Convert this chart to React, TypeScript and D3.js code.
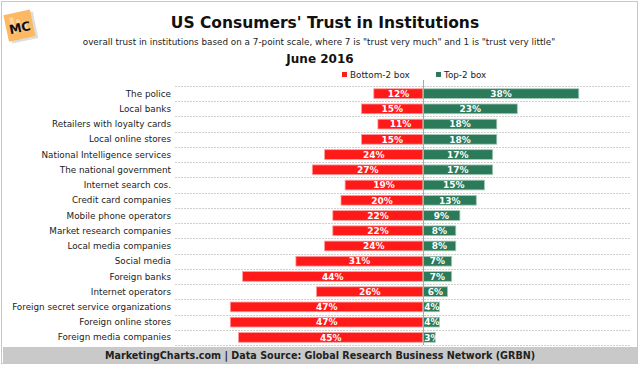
import React, { useEffect, useRef } from 'react';
import * as d3 from 'd3';

const categories = [
  'The police',
  'Local banks',
  'Retailers with loyalty cards',
  'Local online stores',
  'National Intelligence services',
  'The national government',
  'Internet search cos.',
  'Credit card companies',
  'Mobile phone operators',
  'Market research companies',
  'Local media companies',
  'Social media',
  'Foreign banks',
  'Internet operators',
  'Foreign secret service organizations',
  'Foreign online stores',
  'Foreign media companies',
];
const bottom2 = [12, 15, 11, 15, 24, 27, 19, 20, 22, 22, 24, 31, 44, 26, 47, 47, 45];
const top2 = [38, 23, 18, 18, 17, 17, 15, 13, 9, 8, 8, 7, 7, 6, 4, 4, 3];
const seriesNames = ['Bottom-2 box', 'Top-2 box'];

const RED = '#ff1a1a';
const GREEN = '#2b7a59';
const FONT = '"DejaVu Sans", Verdana, sans-serif';

const App: React.FC = () => {
  const svgRef = useRef<SVGSVGElement | null>(null);

  useEffect(() => {
    const W = 640, H = 365;
    const svg = d3.select(svgRef.current);
    svg.selectAll('*').remove();
    svg.attr('width', W).attr('height', H).style('font-family', FONT);

    svg.append('rect').attr('width', W).attr('height', H).attr('fill', 'white');
    // frame
    svg.append('rect')
      .attr('x', 1.5).attr('y', 1.5).attr('width', W - 4).attr('height', H - 3)
      .attr('fill', 'none').attr('stroke', '#c8c8c8');

    // logo
    const logo = svg.append('g').attr('transform', 'translate(20,26) rotate(-12)');
    logo.append('rect').attr('x', -13).attr('y', -13).attr('width', 27).attr('height', 27)
      .attr('fill', '#bbb').attr('opacity', 0.5).attr('transform', 'translate(1.5,1.5)');
    logo.append('rect').attr('x', -14).attr('y', -14).attr('width', 27).attr('height', 27)
      .attr('fill', '#fdb863');
    [-9, -3, 3].forEach((bx, i) => {
      logo.append('rect').attr('x', bx).attr('y', -10 + i * 3).attr('width', 4).attr('height', 16 - i * 3)
        .attr('fill', '#fed39c');
    });
    logo.append('text').attr('x', -0.5).attr('y', 6).attr('text-anchor', 'middle')
      .attr('font-size', 12.5).attr('font-weight', 'bold').attr('fill', '#111').text('MC');

    // titles
    svg.append('text').attr('x', 325).attr('y', 28).attr('text-anchor', 'middle')
      .attr('font-size', 15.5).attr('font-weight', 'bold').attr('fill', '#111')
      .text("US Consumers' Trust in Institutions");
    svg.append('text').attr('x', 319).attr('y', 45).attr('text-anchor', 'middle')
      .attr('font-size', 8.8).attr('fill', '#222')
      .text('overall trust in institutions based on a 7-point scale, where 7 is "trust very much" and 1 is "trust very little"');
    svg.append('text').attr('x', 320).attr('y', 63).attr('text-anchor', 'middle')
      .attr('font-size', 12).attr('font-weight', 'bold').attr('fill', '#111')
      .text('June 2016');

    // legend
    const legend = [
      { name: seriesNames[0], color: RED, x: 342 },
      { name: seriesNames[1], color: GREEN, x: 436 },
    ];
    legend.forEach(l => {
      svg.append('rect').attr('x', l.x).attr('y', 72).attr('width', 5).attr('height', 5).attr('fill', l.color);
      svg.append('text').attr('x', l.x + 8).attr('y', 78).attr('font-size', 8.8).attr('fill', '#222').text(l.name);
    });

    const x = d3.scaleLinear().domain([-50, 40]).range([423 - 205, 423 + 164]);
    const y = d3.scaleBand().domain(categories).range([86, 345]).paddingInner(0.36).paddingOuter(0.18);
    const bh = y.bandwidth();
    const gap = (y.step() - bh) / 2;

    // gridlines between rows
    const gridYs = categories.map(c => (y(c) as number) - gap);
    gridYs.push((y(categories[categories.length - 1]) as number) + bh + gap);
    gridYs.forEach(gy => {
      svg.append('line').attr('x1', 175).attr('x2', 630)
        .attr('y1', Math.round(gy) + 0.5).attr('y2', Math.round(gy) + 0.5)
        .attr('stroke', '#cfcfcf').attr('stroke-dasharray', '2,1');
    });

    // category labels
    svg.append('g').selectAll('text').data(categories).enter().append('text')
      .attr('x', 171).attr('y', d => (y(d) as number) + bh / 2)
      .attr('dy', '0.35em').attr('text-anchor', 'end')
      .attr('font-size', 8.8).attr('fill', '#222').text(d => d);

    // bottom-2 bars
    svg.append('g').selectAll('rect').data(categories).enter().append('rect')
      .attr('x', (d, i) => x(-bottom2[i])).attr('y', d => y(d) as number)
      .attr('width', (d, i) => x(0) - x(-bottom2[i])).attr('height', bh)
      .attr('fill', RED).attr('stroke', '#ff9c9c').attr('stroke-width', 0.8);
    // top-2 bars
    svg.append('g').selectAll('rect').data(categories).enter().append('rect')
      .attr('x', x(0)).attr('y', d => y(d) as number)
      .attr('width', (d, i) => x(top2[i]) - x(0)).attr('height', bh)
      .attr('fill', GREEN).attr('stroke', '#a9cbbb').attr('stroke-width', 0.8);

    // zero line
    svg.append('line').attr('x1', x(0) + 0.5).attr('x2', x(0) + 0.5).attr('y1', 80).attr('y2', 345)
      .attr('stroke', '#aaa');

    // value labels
    svg.append('g').selectAll('text').data(categories).enter().append('text')
      .attr('x', (d, i) => (x(-bottom2[i]) + x(0)) / 2).attr('y', d => (y(d) as number) + bh / 2)
      .attr('dy', '0.36em').attr('text-anchor', 'middle')
      .attr('font-size', 9).attr('font-weight', 'bold').attr('fill', 'white')
      .text((d, i) => `${bottom2[i]}%`);
    svg.append('g').selectAll('text').data(categories).enter().append('text')
      .attr('x', (d, i) => Math.max((x(top2[i]) + x(0)) / 2, x(0) + 9)).attr('y', d => (y(d) as number) + bh / 2)
      .attr('dy', '0.36em').attr('text-anchor', 'middle')
      .attr('font-size', 9).attr('font-weight', 'bold').attr('fill', 'white')
      .text((d, i) => `${top2[i]}%`);

    // footer
    svg.append('rect').attr('x', 3).attr('y', 347).attr('width', W - 6).attr('height', 16).attr('fill', '#c9c9c9');
    svg.append('text').attr('x', 320).attr('y', 359).attr('text-anchor', 'middle')
      .attr('font-size', 9.6).attr('font-weight', 'bold').attr('fill', '#222')
      .text('MarketingCharts.com | Data Source: Global Research Business Network (GRBN)');
  }, []);

  return (
    <div style={{ position: 'absolute', left: 0, top: 0 }}>
      <svg ref={svgRef}></svg>
    </div>
  );
};

export default App;
